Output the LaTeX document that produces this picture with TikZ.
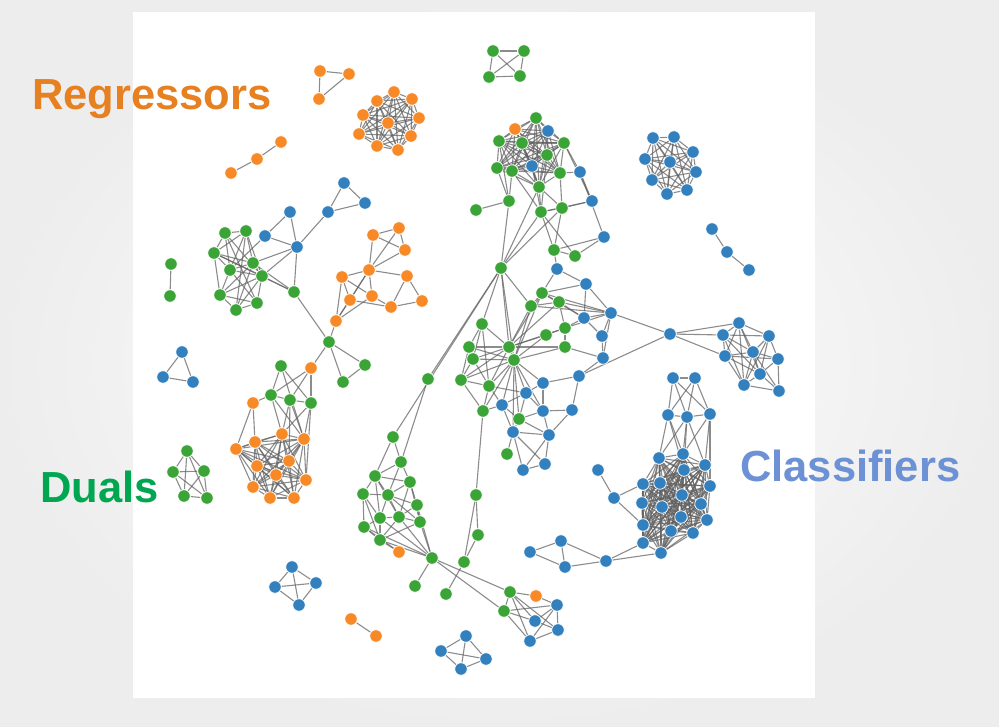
\documentclass[tikz,border=0pt]{standalone}
\usepackage{fontspec}
\setmainfont{Liberation Sans}
\definecolor{cb}{RGB}{50,128,190}
\definecolor{co}{RGB}{247,138,38}
\definecolor{cg}{RGB}{58,164,54}
\definecolor{creg}{RGB}{231,128,32}
\definecolor{cdual}{RGB}{0,166,80}
\definecolor{ccls}{RGB}{108,145,213}
\pgfdeclarelayer{bglayer}
\pgfdeclarelayer{edgelayer}
\pgfsetlayers{bglayer,edgelayer,main}
\newcommand\mycliq[3]{\foreach \i in {#2,...,#3}{\foreach \j in {#2,...,#3}{\ifnum\i<\j\relax \draw[lnk] (#1\i) -- (#1\j);\fi}}}
\tikzset{
  nd/.style={circle, draw=white, line width=0.7pt, inner sep=0pt, minimum size=12.5pt},
  lnk/.style={draw=black!62, line width=1.1pt, opacity=0.72},
  lbl/.style={anchor=base west, inner sep=0pt, font=\fontsize{43.5}{43.5}\selectfont\bfseries}
}
\begin{document}
\begin{tikzpicture}[x=1pt,y=-1pt]
\useasboundingbox (0,0) rectangle (999,727);
\begin{pgfonlayer}{bglayer}
\shade[inner color=white, outer color=black!7] (0,0) rectangle (999,727);
\fill[white] (133,12) rectangle (815,698);
\end{pgfonlayer}
% orange nodes
\foreach \n/\x/\y in {a1/320/71, a2/349/74, a3/319/99,
 b1/281/142, b2/257/159, b3/231/173,
 c1/394/92, c2/412/99, c3/419/118, c4/388/123, c5/411/136, c6/398/150, c7/377/146, c8/359/134, c9/363/115, c10/377/101,
 o1/373/235, o2/399/228, o3/405/250, o4/369/270, o5/342/277, o6/407/276, o7/350/300, o8/372/296, o9/391/307, o10/422/301, o11/336/321,
 q1/311/368, q6/253/403, q7/282/434, q8/304/439, q9/255/442, q10/236/449, q11/289/461, q12/257/466, q13/276/475, q14/306/480, q15/253/487, q16/270/498, q17/294/498,
 r2/515/129, n13/399/552, br2/536/596, k1/351/619, k2/376/636}
  \node[nd, fill=co] (\n) at (\x,\y) {};
% green nodes
\foreach \n/\x/\y in {d1/493/51, d2/524/51, d3/489/77, d4/520/76,
 g1/171/264, g2/170/296,
 i1/187/451, i2/173/472, i3/204/471, i4/184/496, i5/207/498,
 m1/225/233, m2/246/231, m3/214/253, m4/253/263, m5/230/270, m6/262/276, m7/220/295, m8/257/303, m9/236/310, m10/294/292,
 p1/329/342, p2/365/365, p3/343/382,
 q2/281/366, q3/271/395, q4/290/400, q5/311/403,
 r1/536/118, r4/499/141, r5/522/143, r6/564/143, r7/547/155, r9/497/168, r10/512/171, r11/560/173, r12/539/187, r14/509/201, r16/476/210, r17/541/212, r18/562/208,
 t0/501/268,
 s1/554/250, s2/575/256, s5/542/293, s6/531/306, s7/559/302, s10/565/328, s11/482/324, s12/546/335, s14/565/347, s15/469/347, s16/509/347, s17/473/359, s18/514/360, s20/461/380, s22/489/386, s26/483/411, s29/519/419, s32/507/454,
 n1/393/437, n2/401/462, n3/375/476, n4/410/482, n5/363/494, n6/388/495, n7/417/505, n8/380/518, n9/399/517, n10/420/522, n11/364/527, n12/380/540, n14/432/558, n15/415/586, n16/428/379,
 v2/476/495, v3/478/535, v4/464/562, v5/446/594,
 br1/510/592, br3/504/611}
  \node[nd, fill=cg] (\n) at (\x,\y) {};
% blue nodes
\foreach \n/\x/\y in {e1/653/138, e2/674/137, e3/693/152, e4/645/159, e5/670/162, e6/696/172, e7/652/180, e8/687/190, e9/667/194,
 f1/712/229, f2/727/252, f3/749/270,
 h1/182/352, h2/163/377, h3/193/382,
 j1/344/183, j2/365/203, j3/328/212,
 l1/290/212, l2/265/236, l3/297/247,
 r3/548/131, r8/532/166, r13/580/172, r15/592/201, r19/604/237,
 s3/557/269, s4/586/284, s8/611/313, s9/584/318, s13/602/336, s19/603/358, s21/579/376, s23/543/383, s24/526/393, s25/502/405, s27/543/411, s28/572/410, s30/513/432, s31/549/435, s33/545/464, s34/523/470,
 u0/670/334, u1/739/323, u2/723/335, u3/769/336, u4/753/352, u5/725/356, u6/778/359, u7/760/374, u8/744/385, u9/779/391,
 w1/673/378, w2/695/378, w3/668/415, w4/687/417, w5/710/414, w6/659/458, w7/683/454, w8/705/465, w9/684/470, w10/660/483, w11/643/484, w12/710/486, w13/682/495, w14/642/503, w15/662/507, w16/701/504, w17/681/517, w18/707/520, w19/643/525, w20/671/531, w21/693/533, w22/643/543, w23/661/553,
 x1/598/470, x2/614/498, x3/606/561, x4/565/567, x5/561/541, x6/530/552,
 br4/557/605, br5/535/621, br6/558/630, br7/530/641,
 y1/466/636, y2/441/651, y3/486/659, y4/461/669,
 z1/292/567, z2/275/587, z3/316/583, z4/299/605}
  \node[nd, fill=cb] (\n) at (\x,\y) {};
% labels
\node[lbl, text=creg] (lreg) at (32,110) {Regressors};
\node[lbl, text=cdual] (ldual) at (40,502) {Duals};
\node[lbl, text=ccls] (lcls) at (740,481) {Classifiers};
% edges
\begin{pgfonlayer}{edgelayer}
\mycliq{c}{1}{10}
\mycliq{d}{1}{4}
\mycliq{e}{1}{9}
\mycliq{i}{1}{5}
\mycliq{r}{1}{12}
\mycliq{q}{7}{17}
\mycliq{w}{6}{23}
\mycliq{y}{1}{4}
\mycliq{z}{1}{4}
\foreach \a/\b in {a1/a2, a1/a3, a2/a3, b1/b2, b2/b3, f1/f2, f2/f3, g1/g2, h1/h2, h1/h3, h2/h3,
 j1/j2, j1/j3, j2/j3, j3/l3,
 l1/l2, l1/l3, l2/l3, l3/m10, l3/m4, l3/m6, l2/m5, m10/p1, m10/m3, m10/m4, m10/m6,
 m1/m2, m1/m3, m1/m5, m1/m6, m1/m8, m2/m3, m2/m4, m2/m5, m2/m6, m2/m9, m3/m4, m3/m5, m3/m6, m3/m7, m4/m5, m4/m7, m4/m9, m5/m6, m5/m7, m5/m8, m6/m7, m6/m8, m6/m9, m7/m9, m8/m9, m7/m8, m4/m6,
 o1/o2, o1/o3, o2/o3, o1/o4, o2/o4, o3/o4, o4/o5, o4/o6, o4/o7, o4/o8, o4/o11, o5/o7, o5/o8, o5/o11, o6/o9, o6/o10, o9/o10, o8/o9, o7/o9, o7/o11, o8/o11,
 o11/p1, p1/p2, p1/p3, p2/p3, p1/q1,
 q1/q3, q1/q5, q1/q4, q2/q3, q2/q5, q2/q8, q3/q4, q4/q5, q3/q7, q3/q8, q4/q7, q4/q8, q4/q11, q5/q7, q5/q8, q5/q14, q6/q3, q6/q9, q6/q10,
 r11/r13, r6/r13, r13/r15, r13/r19, r6/r15, r14/r16, r14/r9, r14/r10, r14/r4, r12/r17, r7/r17, r10/r17, r8/r17, r17/r18, r11/r18, r12/r18, r15/r18, r15/r17,
 r14/t0, r17/t0, r12/t0, r18/t0, r17/s1, r17/s2, r18/s1, r19/s1, r19/s2,
 t0/s11, t0/s16, t0/s18, t0/s6, t0/n1, t0/n16,
 s1/s2, s1/s3, s3/s4, s3/s5, s4/s8, s4/s5, s4/s9, s5/s6, s5/s7, s5/s8, s5/s9, s6/s7, s6/s16, s6/s18, s6/s8, s7/s9, s7/s10, s7/s8, s8/s9, s8/s13, s8/s19, s8/s10, s9/s10, s9/s13, s10/s12, s10/s14, s10/s16, s12/s16, s12/s18, s13/s19, s14/s19, s14/s18, s14/s16, s16/s18, s16/s11, s16/s15, s16/s17, s16/s20, s16/s22, s16/s5, s16/s7,
 s18/s17, s18/s15, s18/s22, s18/s24, s18/s23, s18/s26, s18/s29, s18/s25, s18/s30, s18/s27, s18/s20, s18/s5,
 s11/s15, s11/s17, s11/s22, s15/s17, s15/s20, s17/s20, s17/s22, s20/s22, s20/s26, s22/s26, s22/s24, s22/s25,
 s23/s21, s21/s28, s21/s19, s23/s24, s23/s27, s24/s25, s24/s27, s24/s29, s25/s26, s25/s29, s25/s30, s27/s28, s27/s29, s27/s31, s28/s31, s29/s30, s29/s31, s30/s31, s30/s34, s30/s33, s31/s33, s33/s34, s31/s34, s30/s32, s26/v2,
 s21/u0, s8/u0, u0/u1, u0/u2, u0/u5,
 u1/u2, u1/u3, u1/u4, u1/u5, u1/u7, u1/u8, u2/u3, u2/u4, u2/u5, u2/u7, u3/u4, u3/u6, u3/u7, u3/u8, u4/u5, u4/u6, u4/u7, u4/u8, u4/u9, u5/u7, u5/u8, u5/u6, u6/u7, u6/u9, u7/u8, u7/u9, u8/u9, u2/u8,
 w1/w2, w1/w3, w1/w4, w1/w5, w2/w3, w2/w5, w2/w4, w3/w4, w4/w5, w3/w6, w3/w7, w3/w9, w4/w7, w4/w8, w4/w6, w5/w8, w5/w12, w5/w7, w4/w9,
 x1/x2, x2/w11, x2/w19, x3/w22, x3/w23, x3/x4, x3/x5, x4/x5, x4/x6, x5/x6,
 n16/n2, n1/n2, n1/n3, n2/n3, n2/n4, n2/n6, n3/n5, n3/n6, n3/n8, n3/n9, n3/n4, n4/n6, n4/n7, n4/n10, n4/n9, n5/n6, n5/n8, n5/n11, n5/n12, n6/n7, n6/n8, n6/n9, n6/n10, n7/n9, n7/n10, n7/n14, n8/n9, n8/n11, n8/n12, n9/n10, n9/n12, n9/n14, n10/n14, n11/n12, n11/n13, n12/n13, n12/n14, n10/n12, n8/n14, n11/n14,
 n14/n15, n14/br1, n14/br3, v2/v3, v2/v4, v3/v4, v4/v5,
 br1/br2, br1/br3, br1/br5, br1/br6, br1/br7, br2/br4, br3/br4, br3/br5, br3/br7, br4/br5, br4/br6, br4/br7, br5/br6, br6/br7,
 k1/k2}
  \draw[lnk] (\a) -- (\b);
\end{pgfonlayer}
\end{tikzpicture}
\end{document}
